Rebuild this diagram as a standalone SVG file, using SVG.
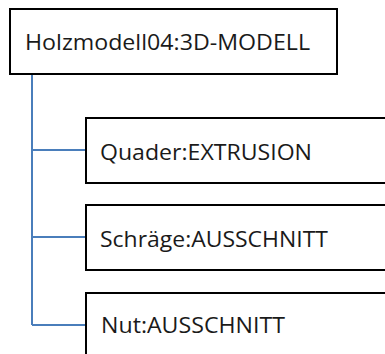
<svg xmlns="http://www.w3.org/2000/svg" width="385" height="354" viewBox="0 0 385 354">
<style>
.box{fill:#fff;stroke:#000;stroke-width:2}
.lbl{font-family:"Open Sans","Noto Sans","DejaVu Sans",sans-serif;font-size:21px;fill:#1a1a1a}
.con{fill:none;stroke:#4a7ebb;stroke-width:2}
</style>
<rect width="385" height="354" fill="#fff"/>
<g id="connectors">
<path class="con" d="M32 74V325"/>
<path class="con" d="M32 150H86"/>
<path class="con" d="M32 237H86"/>
<path class="con" d="M32 325H86"/>
</g>
<g id="root">
<rect class="box" x="10" y="9" width="327" height="65"/>
<text class="lbl" x="25" y="50" textLength="285" lengthAdjust="spacingAndGlyphs">Holzmodell04:3D-MODELL</text>
</g>
<g id="quader">
<rect class="box" x="86" y="118" width="310" height="65"/>
<text class="lbl" x="100" y="160" textLength="212" lengthAdjust="spacingAndGlyphs">Quader:EXTRUSION</text>
</g>
<g id="schraege">
<rect class="box" x="86" y="205" width="310" height="65"/>
<text class="lbl" x="100" y="247" textLength="228" lengthAdjust="spacingAndGlyphs">Schräge:AUSSCHNITT</text>
</g>
<g id="nut">
<rect class="box" x="86" y="293" width="310" height="70"/>
<text class="lbl" x="101" y="333" textLength="184" lengthAdjust="spacingAndGlyphs">Nut:AUSSCHNITT</text>
</g>
</svg>
